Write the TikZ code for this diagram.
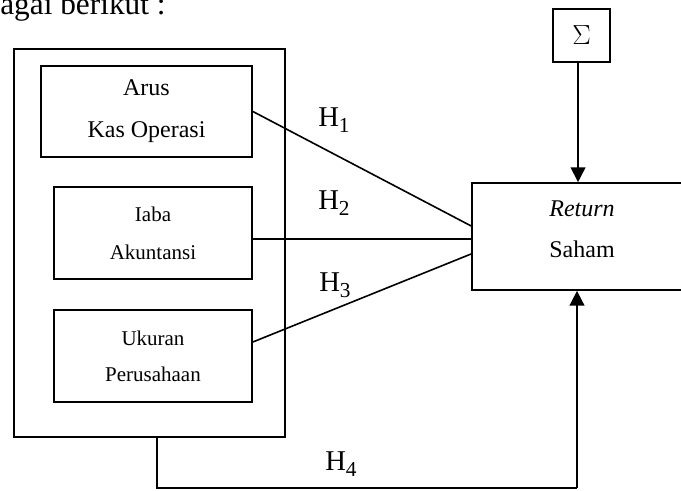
\documentclass[tikz,border=0pt]{standalone}
\usepackage{fontspec}
\setmainfont{Liberation Serif}
\usetikzlibrary{arrows.meta}

\newcommand{\hsub}[1]{H\raisebox{-4.5pt}{\fontsize{16}{16}\selectfont #1}}

\begin{document}
\begin{tikzpicture}[x=0.75pt, y=-0.75pt,
  kotak/.style={draw, line width=1.3pt, inner sep=0pt, align=center},
  garis/.style={line width=1.2pt},
  panah/.style={line width=1.2pt, -{Triangle[length=11pt,width=11pt]}},
  hipo/.style={anchor=base west, inner sep=0pt, font=\fontsize{21.5}{21.5}\selectfont}]

 \useasboundingbox (0,0) rectangle (681,491);

 %%%%%%%%%% Teks di atas %%%%%%%%%%
 \node[anchor=base west, inner sep=0pt, font=\fontsize{23.5}{23.5}\selectfont] (judul) at (0,15) {agai berikut :};

 %%%%%%%%%% Kotak variabel X %%%%%%%%%%
 \node[kotak, minimum width=203.25pt, minimum height=291pt] (luar) at (149.5,243) {};
 \node[kotak, minimum width=158.25pt, minimum height=68.25pt, font=\fontsize{18}{31.5}\selectfont] (arus) at (146.5,111.5) {Arus\\Kas Operasi};
 \node[kotak, minimum width=148.5pt, minimum height=69pt, font=\fontsize{15.75}{28.5}\selectfont] (laba) at (153,233) {Iaba\\Akuntansi};
 \node[kotak, minimum width=148.5pt, minimum height=69pt, font=\fontsize{15.75}{27}\selectfont] (ukuran) at (153,356) {Ukuran\\Perusahaan};

 %%%%%%%%%% Kotak variabel Y %%%%%%%%%%
 \node[kotak, minimum width=165pt, minimum height=80.25pt] (saham) at (582,236.5) {};
 \node[align=center, inner sep=0pt, font=\fontsize{18}{30.75}\selectfont] (sahamteks) at (582,229.5) {\textit{Return}\\Saham};
 \node[kotak, minimum width=42.75pt, minimum height=39.75pt, font=\fontsize{20}{20}\selectfont] (sigma) at (581.5,35.5) {$\Sigma$};

 %%%%%%%%%% Garis hipotesis %%%%%%%%%%
 \draw [garis] (arus.east) -- ([yshift=7.9pt]saham.west) ;
 \draw [garis] ([yshift=-4.5pt]laba.east) -- ([yshift=-4.5pt]laba.east -| saham.west) ;
 \draw [garis] ([yshift=10.5pt]ukuran.east) -- ([yshift=-13.1pt]saham.west) ;

 \coordinate (h4kiri) at (157,488);
 \coordinate (h4kanan) at (577,488);
 \draw [garis] (luar.south -| h4kiri) -- (h4kiri) -- (h4kanan) ;
 \draw [panah] (h4kanan) -- (h4kanan |- saham.south) ;
 \draw [panah] ([xshift=-2.6pt]sigma.south) -- ([xshift=-2.6pt]sigma.south |- saham.north) ;

 %%%%%%%%%% Label H %%%%%%%%%%
 \node[hipo] (h1) at (318,127) {\hsub{1}};
 \node[hipo] (h2) at (318,210) {\hsub{2}};
 \node[hipo] (h3) at (319,292) {\hsub{3}};
 \node[hipo] (h4) at (325,470) {\hsub{4}};

\end{tikzpicture}
\end{document}
